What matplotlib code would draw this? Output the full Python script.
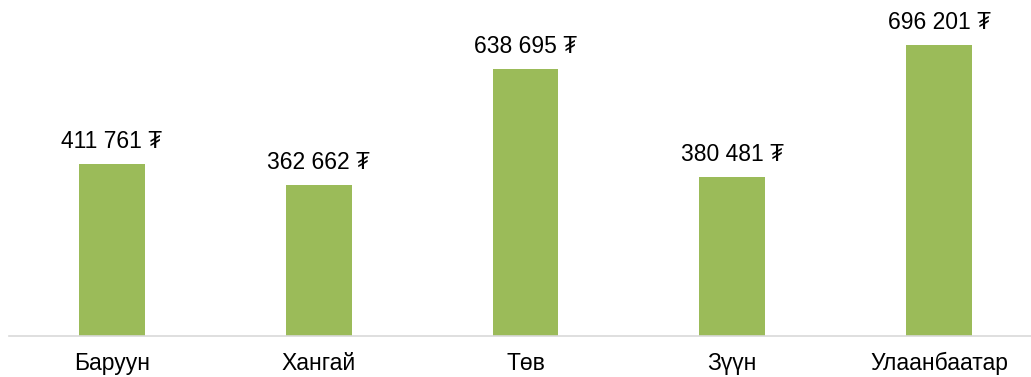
import matplotlib
matplotlib.use("Agg")
import matplotlib.pyplot as plt

categories = ["Баруун", "Хангай", "Төв", "Зүүн", "Улаанбаатар"]
values = [411761, 362662, 638695, 380481, 696201]
labels = ["411 761 ₮", "362 662 ₮", "638 695 ₮", "380 481 ₮", "696 201 ₮"]

plt.rcParams['font.family'] = ['Liberation Sans', 'DejaVu Sans']

W, H = 1031, 377
fig = plt.figure(figsize=(W / 100, H / 100), dpi=100)
ax = fig.add_axes([0, 41 / H, 1, 336 / H])

x = list(range(len(categories)))
ax.bar(x, values, width=0.319, color="#9BBB59", zorder=2)

k = 206.75
xmin = -112 / k
ax.set_xlim(xmin, xmin + W / k)
ax.set_ylim(0, 804400)

for xi, v, lab in zip(x, values, labels):
    ax.annotate(lab, (xi, v), xytext=(0, 11.5), textcoords="offset points",
                ha="center", va="baseline", fontsize=16.5, color="#000000")

for s in ax.spines.values():
    s.set_visible(False)
ax.plot([-0.5, 4.5], [0, 0], color="#D9D9D9", lw=1.2, clip_on=False, zorder=3)
ax.set_yticks([])
ax.set_xticks(x)
ax.set_xticklabels(categories, fontsize=16.5)
ax.tick_params(axis="x", length=0, pad=11.5)

fig.savefig("out.png", dpi=100)
